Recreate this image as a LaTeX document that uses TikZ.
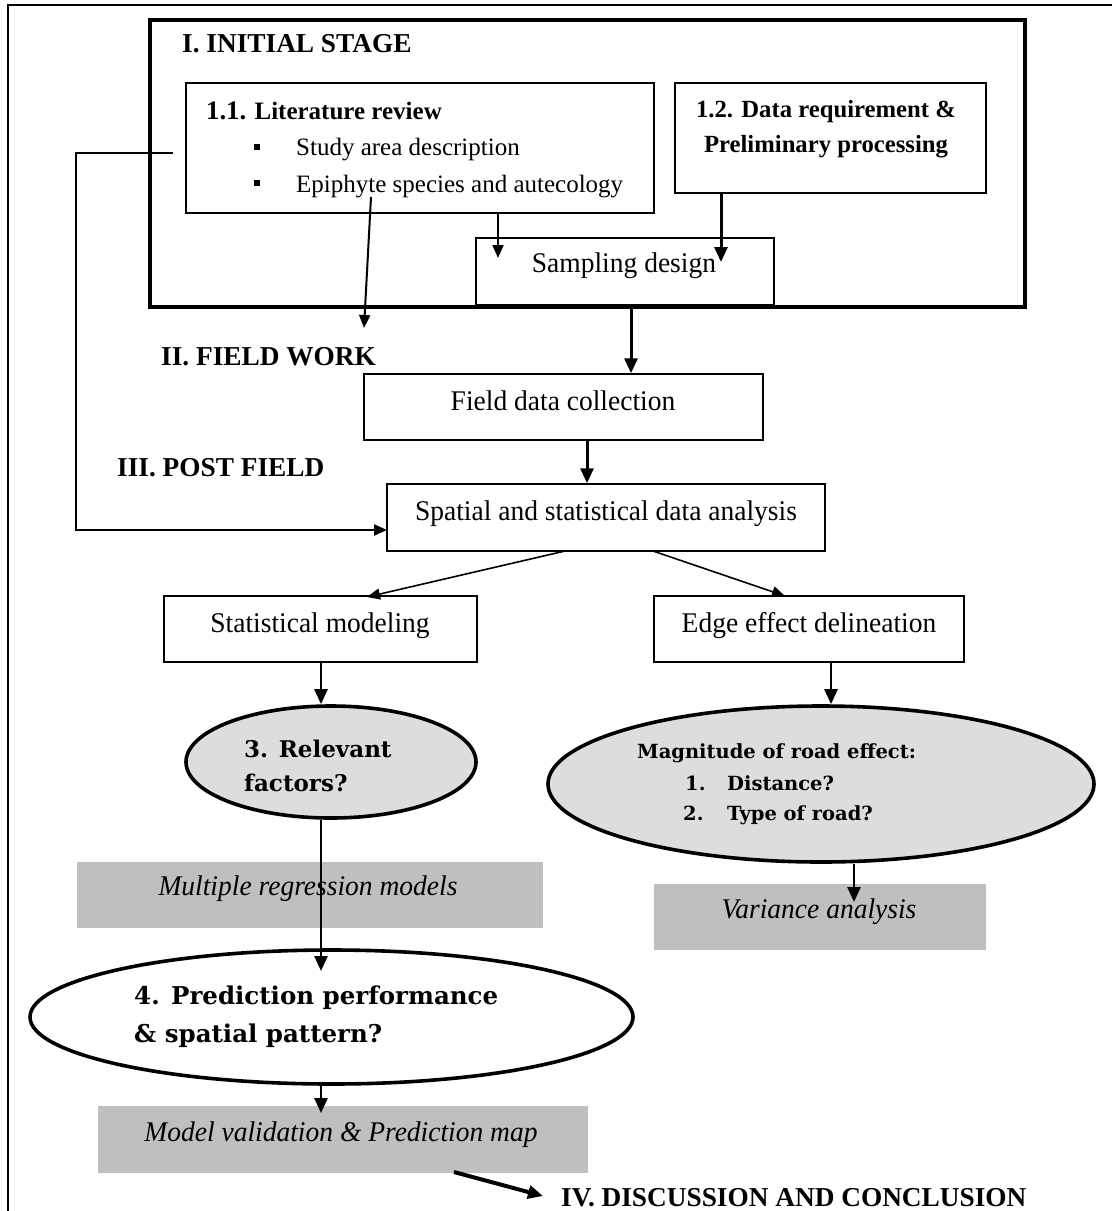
\documentclass[tikz,border=0pt]{standalone}
\usepackage{fontspec}
\setmainfont{Liberation Serif}
\newfontfamily\bodyfont[FakeStretch=0.965]{Liberation Serif}
\newfontfamily\slab{DejaVu Serif}
\usetikzlibrary{arrows.meta,shapes.geometric}
\definecolor{ellgray}{HTML}{DDDDDD}
\definecolor{boxgray}{HTML}{BFBFBF}
\begin{document}
\begin{tikzpicture}[x=1pt,y=-1pt,
  rbox/.style={draw, rectangle, line width=1.5pt, inner sep=0pt},
  gbox/.style={fill=boxgray, rectangle, inner sep=0pt},
  ell/.style={ellipse, draw, line width=3.6pt, inner sep=0pt},
  txt/.style={anchor=base, inner sep=0pt, font=\fontsize{28.5}{33}\bodyfont},
  itxt/.style={anchor=base, inner sep=0pt, font=\fontsize{28.5}{33}\bodyfont\itshape},
  head/.style={anchor=base west, inner sep=0pt, font=\fontsize{27.3}{32}\selectfont\bfseries},
  small/.style={anchor=base west, inner sep=0pt, font=\fontsize{25}{30}\selectfont},
  slabtxt/.style={anchor=base west, inner sep=0pt},
  bul/.style={fill=black, rectangle, minimum size=6.5pt, inner sep=0pt},
  arr/.style={-{Triangle[length=13pt,width=11pt]}, line width=1.6pt},
  arrT/.style={-{Triangle[length=15pt,width=13pt]}, line width=3pt}]
\useasboundingbox (0,0) rectangle (1112,1211);
% outer frame
\draw[line width=2pt] (8,1211) -- (8,5) -- (1112,5);
% stage
\node[rbox, line width=4pt, minimum width=875pt, minimum height=287pt] (stage) at (587.5,163.5) {};
\node[head] (t1) at (182,52) {I. INITIAL STAGE};
\node[rbox, minimum width=468pt, minimum height=130pt] (lit) at (420,148) {};
\node[small, font=\fontsize{25}{30}\selectfont\bfseries] (lith) at (206,119) {{\fontsize{26.7}{30}\selectfont 1.1.} Literature review};
\node[bul] (bu1) at (257,147) {};
\node[bul] (bu2) at (257,183) {};
\node[small] (l1) at (296,155) {Study area description};
\node[small] (l2) at (296,192) {Epiphyte species and autecology};
\node[rbox, minimum width=311pt, minimum height=110pt] (data) at (830.5,138) {};
\node[txt, font=\fontsize{24.7}{30}\selectfont\bfseries] (d1) at (826,117) {1.2. Data requirement \&};
\node[txt, font=\fontsize{24.7}{30}\selectfont\bfseries] (d2) at (826,152) {Preliminary processing};
\node[rbox, minimum width=298pt, minimum height=67pt] (samp) at (625,271.5) {};
\node[txt] (sampt) at (624,272) {Sampling design};
% field work
\node[head] (t2) at (161,365) {II. FIELD WORK};
\node[rbox, minimum width=399pt, minimum height=66pt] (field) at (563.5,407) {};
\node[txt] (fieldt) at (563,410) {Field data collection};
\node[head] (t3) at (117,476) {III. POST FIELD};
\node[rbox, minimum width=438pt, minimum height=67pt] (spat) at (606,517.5) {};
\node[txt] (spatt) at (606,520) {Spatial and statistical data analysis};
\node[rbox, minimum width=313pt, minimum height=66pt] (stat) at (320.5,629) {};
\node[txt] (statt) at (320,632) {Statistical modeling};
\node[rbox, minimum width=310pt, minimum height=66pt] (edge) at (809,629) {};
\node[txt] (edget) at (809,632) {Edge effect delineation};
% ellipses
\node[ell, fill=ellgray, minimum width=290pt, minimum height=112pt] (e3) at (331,762) {};
\node[slabtxt, font=\fontsize{23}{28}\slab\bfseries] (e3a) at (244,757) {3. Relevant};
\node[slabtxt, font=\fontsize{23}{28}\slab\bfseries] (e3b) at (244,791) {factors?};
\node[ell, fill=ellgray, minimum width=546pt, minimum height=156pt] (mag) at (821,784) {};
\node[slabtxt, font=\fontsize{19.5}{24}\slab\bfseries] (m0) at (637,758) {Magnitude of road effect:};
\node[slabtxt, font=\fontsize{19.5}{24}\slab\bfseries] (m1n) at (685,790) {1.};
\node[slabtxt, font=\fontsize{19.5}{24}\slab\bfseries] (m1) at (727,790) {Distance?};
\node[slabtxt, font=\fontsize{19.5}{24}\slab\bfseries] (m2n) at (683,820) {2.};
\node[slabtxt, font=\fontsize{19.5}{24}\slab\bfseries] (m2) at (727,820) {Type of road?};
\node[gbox, minimum width=466pt, minimum height=66pt] (mult) at (309.5,895) {};
\node[itxt] (multt) at (308,895) {Multiple regression models};
\node[gbox, minimum width=332pt, minimum height=66pt] (var) at (820,917) {};
\node[itxt] (vart) at (819,918) {Variance analysis};
\node[ell, fill=white, minimum width=603pt, minimum height=134pt] (e4) at (331.5,1017) {};
\node[slabtxt, font=\fontsize{24.5}{30}\slab\bfseries] (e4a) at (134,1004) {4. Prediction performance};
\node[slabtxt, font=\fontsize{24.5}{30}\slab\bfseries] (e4b) at (134,1042) {\& spatial pattern?};
\node[gbox, minimum width=490pt, minimum height=67pt] (model) at (343,1139.5) {};
\node[itxt] (modelt) at (341,1141) {Model validation \& Prediction map};
\node[head] (t4) at (561,1206) {IV. DISCUSSION AND CONCLUSION};
% connector end points
\coordinate (p1) at (498,258);
\coordinate (p2) at (721,262);
\coordinate (p3s) at (371,197);
\coordinate (p3e) at (364,328);
\coordinate (p4s) at (173,153);
\coordinate (p4c) at (76,530);
\coordinate (p4e) at (387,530);
\coordinate (x631) at (631,0);
\coordinate (x587) at (587,0);
\coordinate (p7s) at (565,551);
\coordinate (p7e) at (367,597);
\coordinate (p8s) at (653,551);
\coordinate (p8e) at (785,596);
\coordinate (x321) at (321,0);
\coordinate (x831) at (831,0);
\coordinate (p11) at (321,971);
\coordinate (x854) at (854,0);
\coordinate (p12) at (854,902);
\coordinate (p13) at (321,1113);
\coordinate (p14s) at (454,1172);
\coordinate (p14e) at (543,1196);
% connectors
\draw[arr] (lit.south -| p1) -- (p1);
\draw[arrT] (data.south -| p2) -- (p2);
\draw[arr, line width=2pt] (p3s) -- (p3e);
\draw[arr, line width=2.4pt] (p4s) -| (p4c) -- (p4e);
\draw[arrT] (samp.south -| x631) -- (field.north -| x631);
\draw[arrT] (field.south -| x587) -- (spat.north -| x587);
\draw[arr] (p7s) -- (p7e);
\draw[arr] (p8s) -- (p8e);
\draw[arrT, line width=2.6pt] (stat.south -| x321) -- (e3.north -| x321);
\draw[arrT, line width=2.6pt] (edge.south -| x831) -- (mag.north -| x831);
\draw[arrT, line width=2.6pt] (e3.south -| x321) -- (p11);
\draw[arrT, line width=2.6pt] (mag.south -| x854) -- (p12);
\draw[arrT, line width=2.6pt] (e4.south -| x321) -- (p13);
\draw[arrT, line width=4pt] (p14s) -- (p14e);
\end{tikzpicture}
\end{document}
